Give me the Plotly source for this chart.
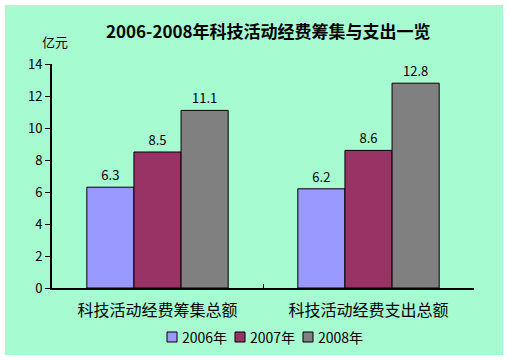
import plotly.graph_objects as go

categories = ["科技活动经费筹集总额", "科技活动经费支出总额"]
series_names = ["2006年", "2007年", "2008年"]
values_2006 = [6.3, 6.2]
values_2007 = [8.5, 8.6]
values_2008 = [11.1, 12.8]
colors = ["#9999FF", "#993366", "#808080"]
y_ticks = [0, 2, 4, 6, 8, 10, 12, 14]

FONT = "Noto Sans CJK SC"
# pixel -> paper helpers (plot area: x 52..474, y 288..64)
L, R, B, T = 52, 474, 288, 64
def px(x):
    return (x - L) / (R - L)
def py(y):
    return (B - y) / (B - T)

fig = go.Figure()
for name, vals, col in zip(series_names, [values_2006, values_2007, values_2008], colors):
    fig.add_trace(go.Bar(
        x=categories, y=vals, name=name,
        marker=dict(color=col, line=dict(color="black", width=1)),
        text=[f"{v:.1f}" for v in vals], textposition="outside",
        textfont=dict(family=FONT, size=13, color="black"),
        cliponaxis=False, showlegend=False,
    ))

shapes = [dict(type="rect", xref="paper", yref="paper",
               x0=px(5), x1=px(503), y0=py(355), y1=py(5),
               fillcolor="#A7FBD1", line=dict(width=0), layer="below")]
annotations = [
    dict(text="<b>2006-2008年科技活动经费筹集与支出一览</b>", xref="paper", yref="paper",
         x=px(268), y=py(31), xanchor="center", yanchor="middle",
         showarrow=False, font=dict(family=FONT, size=17, color="black")),
    dict(text="亿元", xref="paper", yref="paper",
         x=px(55), y=py(42), xanchor="center", yanchor="middle",
         showarrow=False, font=dict(family=FONT, size=13, color="black")),
]
# legend drawn as swatches + text
for i, (name, col) in enumerate(zip(series_names, colors)):
    x0 = 167 + 68 * i
    shapes.append(dict(type="rect", xref="paper", yref="paper",
                       x0=px(x0), x1=px(x0 + 10), y0=py(342), y1=py(332),
                       fillcolor=col, line=dict(color="black", width=1)))
    annotations.append(dict(text=name, xref="paper", yref="paper",
                            x=px(x0 + 13), y=py(336.5), xanchor="left", yanchor="middle",
                            showarrow=False, font=dict(family=FONT, size=14, color="black")))

fig.update_layout(
    width=509, height=361,
    margin=dict(l=L, r=509 - R, t=T, b=361 - B),
    paper_bgcolor="white",
    plot_bgcolor="rgba(0,0,0,0)",
    barmode="group", bargap=0.33, bargroupgap=0,
    font=dict(family=FONT, color="black"),
    showlegend=False,
    shapes=shapes,
    annotations=annotations,
)
fig.update_xaxes(
    showline=True, linecolor="black", linewidth=2,
    ticks="inside", tickson="boundaries", ticklen=4, tickcolor="black", tickwidth=1,
    tickfont=dict(family=FONT, size=16), showgrid=False, ticklabelstandoff=7,
)
fig.update_yaxes(
    range=[0, 14], tickvals=y_ticks, showline=True, linecolor="black", linewidth=2,
    ticks="outside", ticklen=5, tickcolor="black", tickwidth=1,
    tickfont=dict(family=FONT, size=13), showgrid=False, zeroline=False,
    ticksuffix="\u00a0\u00a0\u00a0",
)
fig.write_html("out.html", config={"displayModeBar": False},
               post_script="document.body.style.margin='0';document.body.style.overflow='hidden';")
